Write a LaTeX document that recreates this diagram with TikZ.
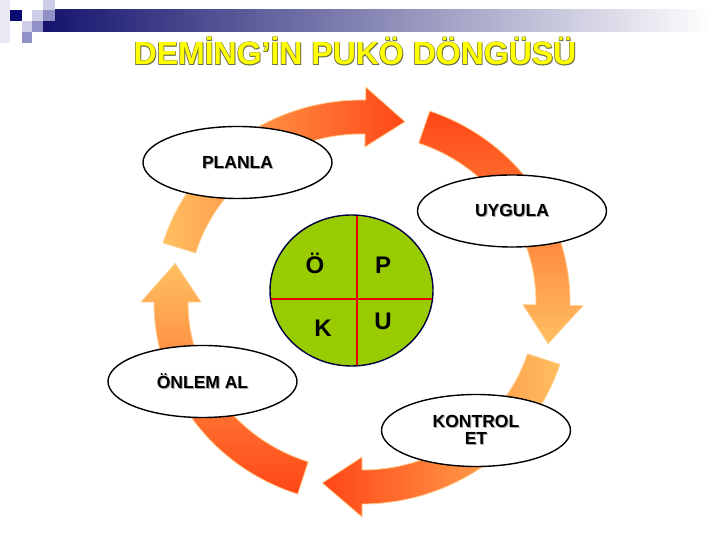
\documentclass[tikz,border=0pt]{standalone}
\usepackage{fontspec}
\setmainfont{Liberation Sans}
\usetikzlibrary{shapes.geometric}
\definecolor{arlight}{RGB}{255,192,96}
\definecolor{arred}{RGB}{255,70,22}
\definecolor{aredge}{RGB}{255,205,140}
\definecolor{pdcagreen}{RGB}{153,204,0}
\definecolor{pdcaedge}{RGB}{0,0,64}
\definecolor{crossred}{RGB}{230,0,0}
\definecolor{barnavy}{RGB}{20,20,110}
\definecolor{sqnavy}{RGB}{10,10,115}
\definecolor{sqlight}{RGB}{205,205,232}
\definecolor{sqmid}{RGB}{145,145,200}
\definecolor{sqpale}{RGB}{234,234,246}
\definecolor{ttlyellow}{RGB}{255,255,0}
\definecolor{ttlline}{RGB}{110,110,70}
\newcommand\ttlglow[1]{\leavevmode\rlap{\color{ttlline}\kern0.9pt\raisebox{-0.9pt}{#1}}\rlap{\color{ttlline}\kern-0.5pt\raisebox{0.5pt}{#1}}\rlap{\color{ttlline}\kern0.5pt\raisebox{0.5pt}{#1}}\rlap{\color{ttlline}\kern-0.5pt\raisebox{-0.5pt}{#1}}{\color{ttlyellow}#1}}
\newcommand\lblshad[1]{\leavevmode\rlap{\color{black!35}\kern1pt\raisebox{-1pt}{#1}}#1}
\newcommand\ringarrow[4]{%
  \path[#4, draw=aredge, line width=0.8pt, line join=round]
    (#1:208pt and 202pt) arc[start angle=#1, end angle=#2, x radius=208pt, y radius=202pt]
    -- (#2:221pt and 215pt) -- (#3:191pt and 185pt) -- (#2:161pt and 155pt)
    -- (#2:174pt and 168pt) arc[start angle=#2, end angle=#1, x radius=174pt, y radius=168pt]
    -- cycle;}
\tikzset{
  stage/.style={ellipse, draw=black, line width=1.4pt, fill=white, inner sep=0pt,
    minimum width=189pt, minimum height=72pt, font=\fontsize{17.5}{17}\selectfont\bfseries, align=center},
  letter/.style={anchor=base, inner sep=0pt, font=\fontsize{24}{24}\selectfont\bfseries},
}
\begin{document}
\begin{tikzpicture}[x=1pt,y=1pt]
\useasboundingbox (0,0) rectangle (720,540);
\fill[white] (0,0) rectangle (720,540);
% header bar and squares
\shade[left color=barnavy, right color=white] (43,508) rectangle (712,530);
\fill[sqpale] (0,497) rectangle (10,540);
\fill[sqlight] (43,530) rectangle (55,540);
\fill[sqnavy] (10,519) rectangle (22,530);
\fill[sqlight] (32,519) rectangle (43,530);
\fill[sqmid] (43,519) rectangle (55,530);
\fill[sqlight] (22,508) rectangle (32,519);
\fill[sqmid] (32,508) rectangle (43,519);
\fill[sqmid] (22,497) rectangle (32,508);
% title
\node[anchor=base, inner sep=0pt, font=\fontsize{32}{32}\selectfont\bfseries] (title) at (355,475) {\ttlglow{DEMİNG’İN PUKÖ DÖNGÜSÜ}};
% ring of arrows
\begin{scope}[shift={(362,238)}]
  \ringarrow{163}{89}{77}{left color=arlight, right color=arred}
  \ringarrow{71}{-1}{-13}{top color=arred, bottom color=arlight}
  \ringarrow{-18}{-90}{-102}{left color=arred, right color=arlight}
  \ringarrow{-108}{-180}{-192}{top color=arlight, bottom color=arred}
\end{scope}
% stages
\node[stage] (plan) at (237.5,377.5) {\lblshad{PLANLA}};
\node[stage] (uyg) at (512,329) {\lblshad{UYGULA}};
\node[stage] (onlem) at (202.5,158.5) {\lblshad{ÖNLEM AL}};
\node[stage] (kontrol) at (476,109.5) {\lblshad{KONTROL}\\\lblshad{ET}};
% centre circle
\node[ellipse, fill=pdcagreen, minimum width=163pt, minimum height=151pt, inner sep=0pt] (pdca) at (351.5,249.5) {};
\begin{scope}
  \clip (351.5,249.5) ellipse[x radius=81.5pt, y radius=75.5pt];
  \draw[crossred, line width=2.6pt] (357,170) -- (357,330);
  \draw[crossred, line width=2.6pt] (265,241) -- (440,241);
\end{scope}
\draw[pdcaedge, line width=1.4pt] (351.5,249.5) ellipse[x radius=81.5pt, y radius=75.5pt];
\node[letter] (lo) at (315,266) {Ö};
\node[letter] (lp) at (383,266) {P};
\node[letter] (lk) at (323,203) {K};
\node[letter] (lu) at (383,210) {U};
\end{tikzpicture}
\end{document}
